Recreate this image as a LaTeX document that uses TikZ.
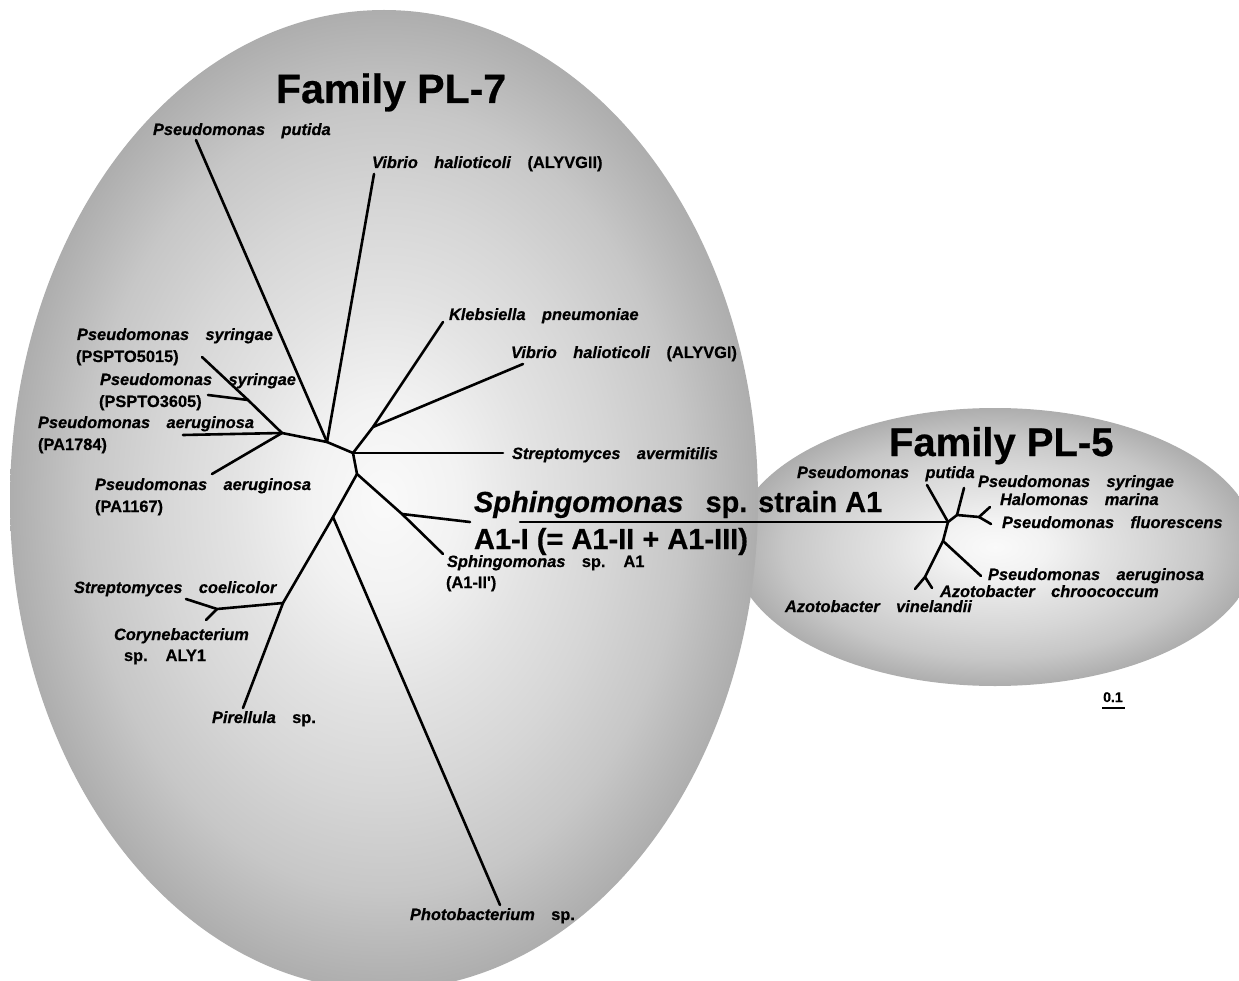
\documentclass[tikz,border=0pt]{standalone}
\usepackage{fontspec}
\setmainfont{Liberation Sans}[Ligatures=TeXOff,BoldFeatures={FakeBold=0.6},BoldItalicFeatures={FakeBold=0.6}]
\newcommand\labf{\fontsize{16.4}{19}\selectfont\bfseries\spaceskip=1.0em\relax}
\pgfdeclareradialshading{plshade}{\pgfpoint{0bp}{0bp}}{%
  color(0bp)=(white!98!black);
  color(5bp)=(white!95!black);
  color(10bp)=(white!89!black);
  color(15bp)=(white!84!black);
  color(20bp)=(white!78!black);
  color(25bp)=(white!68!black);
  color(50bp)=(white!68!black)}
\begin{document}
\begin{tikzpicture}[x=1pt,y=-1pt,
  br/.style={line width=2.6pt,line cap=round,line join=round,black},
  lab/.style={anchor=base west,inner sep=0pt,outer sep=0pt,font=\labf,text=black},
  big/.style={anchor=base west,inner sep=0pt,outer sep=0pt,font=\fontsize{29}{33}\selectfont\bfseries,text=black},
  fam/.style={anchor=base west,inner sep=0pt,outer sep=0pt,font=\fontsize{41}{46}\selectfont\bfseries,text=black}]
\useasboundingbox (0,0) rectangle (1239,981);
\fill[white] (0,0) rectangle (1239,981);
\begin{scope}
  \clip (0,0) rectangle (1239,981);
  \shade[shading=plshade] (995,547) ellipse [x radius=262pt, y radius=139pt];
  \shade[shading=plshade] (384,500) ellipse [x radius=374pt, y radius=490pt];
\end{scope}

% ---------- PL-7 tree coordinates ----------
\coordinate (h)   at (353,453);
\coordinate (sav) at (503,453);
\coordinate (c2)  at (373,427);
\coordinate (kle) at (443,322);
\coordinate (vi1) at (523,364);
\coordinate (c3)  at (327,442);
\coordinate (vi2) at (374,174);
\coordinate (put) at (196,140);
\coordinate (cL)  at (282,433);
\coordinate (pa84) at (183,435);
\coordinate (pa67) at (212,474);
\coordinate (cS)  at (248,400);
\coordinate (ps15) at (202,357);
\coordinate (ps05) at (208,395);
\coordinate (c4)  at (357,474);
\coordinate (c5)  at (402,514);
\coordinate (a1ii) at (443,554);
\coordinate (a1i) at (470,522);
\coordinate (a1j) at (520,522);
\coordinate (c6)  at (333,517);
\coordinate (pho) at (500,905);
\coordinate (c7)  at (283,603);
\coordinate (pir) at (243,708);
\coordinate (c8)  at (217,609);
\coordinate (sco) at (186,599);
\coordinate (cor) at (206,620);

% ---------- PL-5 tree coordinates ----------
\coordinate (r)   at (948,522);
\coordinate (qput) at (927,485);
\coordinate (u)   at (957,515);
\coordinate (qsyr) at (964,488);
\coordinate (v)   at (979,517);
\coordinate (qhal) at (990,507);
\coordinate (qflu) at (991,524);
\coordinate (d)   at (943,541);
\coordinate (qaer) at (981,576);
\coordinate (w)   at (925,577);
\coordinate (qvin) at (915,589);
\coordinate (qchr) at (932,588);

% ---------- branches ----------
\draw[br] (h) -- (sav);
\draw[br] (h) -- (c2) -- (kle);
\draw[br] (c2) -- (vi1);
\draw[br] (h) -- (c3) -- (vi2);
\draw[br] (c3) -- (put);
\draw[br] (c3) -- (cL) -- (pa84);
\draw[br] (cL) -- (pa67);
\draw[br] (cL) -- (cS) -- (ps15);
\draw[br] (cS) -- (ps05);
\draw[br] (h) -- (c4) -- (c5) -- (a1ii);
\draw[br] (c5) -- (a1i);
\draw[br] (c4) -- (c6) -- (pho);
\draw[br] (c6) -- (c7) -- (pir);
\draw[br] (c7) -- (c8) -- (sco);
\draw[br] (c8) -- (cor);
\draw[br,line width=2.4pt] (a1j) -- (r);
\draw[br] (r) -- (qput);
\draw[br] (r) -- (u) -- (qsyr);
\draw[br] (u) -- (v) -- (qhal);
\draw[br] (v) -- (qflu);
\draw[br] (r) -- (d) -- (qaer);
\draw[br] (d) -- (w) -- (qvin);
\draw[br] (w) -- (qchr);

% ---------- labels PL-7 ----------
\node[fam] (f7) at (276,103) {Family PL-7};
\node[lab] (lput) at (153,135) {\itshape Pseudomonas putida};
\node[lab] (lvi2) at (372,168) {\textit{Vibrio halioticoli} (ALYVGII)};
\node[lab] (lkle) at (449,320) {\itshape Klebsiella pneumoniae};
\node[lab] (lvi1) at (511,358) {\textit{Vibrio halioticoli} (ALYVGI)};
\node[lab] (lsav) at (512,459) {\itshape Streptomyces avermitilis};
\node[lab] (lps1) at (77,340) {\itshape Pseudomonas syringae};
\node[lab] (lps1b) at (76,362) {(PSPTO5015)};
\node[lab] (lps2) at (100,385) {\itshape Pseudomonas syringae};
\node[lab] (lps2b) at (99,407) {(PSPTO3605)};
\node[lab] (lpa1) at (38,428) {\itshape Pseudomonas aeruginosa};
\node[lab] (lpa1b) at (38,450) {(PA1784)};
\node[lab] (lpa2) at (95,490) {\itshape Pseudomonas aeruginosa};
\node[lab] (lpa2b) at (95,512) {(PA1167)};
\node[big] (la1) at (474,512) {\textit{Sphingomonas}\hspace{14pt} sp. strain A1};
\node[big] (la1b) at (474,549) {A1-I (= A1-II + A1-III)};
\node[lab] (lsa) at (447,567) {\textit{Sphingomonas} sp. A1};
\node[lab] (lsab) at (446,588) {(A1-II')};
\node[lab] (lsco) at (74,593) {\itshape Streptomyces coelicolor};
\node[lab] (lcor) at (114,640) {\itshape Corynebacterium};
\node[lab] (lcorb) at (124,661) {sp. ALY1};
\node[lab] (lpir) at (212,723) {\textit{Pirellula} sp.};
\node[lab] (lpho) at (410,920) {\textit{Photobacterium} sp.};

% ---------- labels PL-5 ----------
\node[fam,font=\fontsize{40}{45}\selectfont\bfseries] (f5) at (889,456) {Family PL-5};
\node[lab] (mput) at (797,478) {\itshape Pseudomonas putida};
\node[lab] (msyr) at (978,487) {\itshape Pseudomonas syringae};
\node[lab] (mhal) at (1000,505) {\itshape Halomonas marina};
\node[lab] (mflu) at (1002,528) {\itshape Pseudomonas fluorescens};
\node[lab] (maer) at (988,580) {\itshape Pseudomonas aeruginosa};
\node[lab] (mchr) at (940,597) {\itshape Azotobacter chroococcum};
\node[lab] (mvin) at (785,612) {\itshape Azotobacter vinelandii};

% ---------- scale bar ----------
\node[anchor=base west,inner sep=0pt,font=\fontsize{14}{16}\selectfont\bfseries,text=black] (scl) at (1103,702) {0.1};
\coordinate (sb1) at (1102,708);
\coordinate (sb2) at (1125,708);
\draw[line width=2pt,black] (sb1) -- (sb2);
\end{tikzpicture}
\end{document}
